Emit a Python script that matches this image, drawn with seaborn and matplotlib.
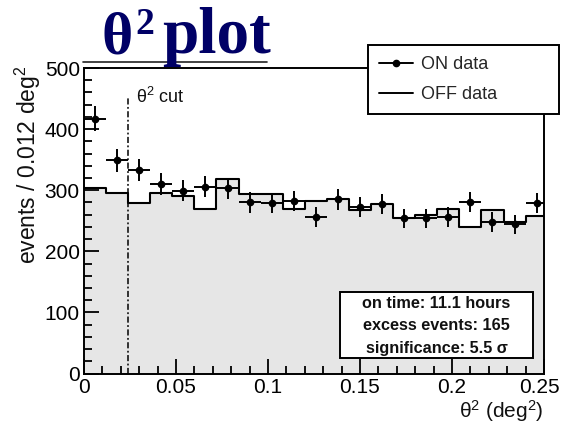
import numpy as np
import pandas as pd
import matplotlib
matplotlib.use("Agg")
import matplotlib.pyplot as plt
import matplotlib.transforms as mtransforms
import seaborn as sns
from matplotlib.lines import Line2D
from matplotlib.patches import Rectangle

# ---------------- data ----------------
theta2_edges = [0.000, 0.012, 0.024, 0.036, 0.048, 0.060, 0.072, 0.084, 0.096,
                0.108, 0.120, 0.132, 0.144, 0.156, 0.168, 0.180, 0.192, 0.204,
                0.216, 0.228, 0.240, 0.252]
on_counts = [417, 349, 333, 310, 299, 306, 303, 280, 279, 282, 256,
             285, 273, 277, 254, 254, 256, 281, 248, 244, 279]
on_errors = [20.4, 18.7, 18.2, 17.6, 17.3, 17.5, 17.4, 16.7, 16.7, 16.8, 16.0,
             16.9, 16.5, 16.6, 15.9, 15.9, 16.0, 16.8, 15.7, 15.6, 16.7]
off_counts = [304, 296, 279, 296, 291, 270, 319, 293, 293, 269, 282,
              285, 267, 278, 255, 259, 270, 240, 267, 248, 257]
theta2_cut = 0.024
x_tick_values = [0, 0.05, 0.1, 0.15, 0.2, 0.25]
x_tick_labels = ["0", "0.05", "0.1", "0.15", "0.2", "0.25"]
y_tick_values = [0, 100, 200, 300, 400, 500]
y_tick_labels = ["0", "100", "200", "300", "400", "500"]
stats_lines = ["on time: 11.1 hours", "excess events: 165", "significance: 5.5 σ"]

edges = np.array(theta2_edges)
centers = (edges[:-1] + edges[1:]) / 2
half_w = np.diff(edges) / 2
df = pd.DataFrame({"theta2": centers, "on": on_counts, "on_err": on_errors,
                   "off": off_counts, "half_w": half_w})

# ---------------- style ----------------
sns.set_theme(style="white")
plt.rcParams["font.family"] = ["Liberation Sans", "DejaVu Sans"]
plt.rcParams["mathtext.fontset"] = "custom"
plt.rcParams["mathtext.rm"] = "Liberation Sans"
plt.rcParams["mathtext.it"] = "Liberation Sans"
plt.rcParams["mathtext.bf"] = "Liberation Sans:bold"

W, H = 562, 429
fig = plt.figure(figsize=(W / 100, H / 100), dpi=100)
fig.patch.set_facecolor("white")
ax = fig.add_axes([84 / W, 1 - 373.5 / H, 460 / W, 305.5 / H])
ax.set_facecolor("white")
ax.set_axisbelow(False)

# OFF histogram: grey fill + black step outline
sns.histplot(data=df, x="theta2", weights="off", bins=list(theta2_edges),
             element="step", fill=True, color="#e6e6e6", alpha=1, linewidth=0,
             ax=ax, zorder=1)
sns.histplot(data=df, x="theta2", weights="off", bins=list(theta2_edges),
             element="step", fill=False, color="black", linewidth=1.5,
             ax=ax, zorder=3)

# ON data with error bars
ax.errorbar(df["theta2"], df["on"], yerr=df["on_err"], xerr=df["half_w"],
            fmt="o", color="black", markersize=4.5, elinewidth=1.4,
            capsize=0, zorder=4)

# theta^2 cut line
ax.plot([theta2_cut, theta2_cut], [0, 451], color="black", linewidth=1.1,
        linestyle=(0, (4, 1.6, 1.2, 1.6)), zorder=2)
ax.text(theta2_cut + 0.0045, 452, r"θ$^2$ cut", fontsize=13, ha="left",
        va="center", color="#111111")

ax.set_xlim(0, 0.25)
ax.set_ylim(0, 500)
ax.set_xticks(x_tick_values)
ax.set_xticklabels(x_tick_labels)
ax.set_yticks(y_tick_values)
ax.set_yticklabels(y_tick_labels)
ax.xaxis.set_minor_locator(matplotlib.ticker.MultipleLocator(0.01))
ax.yaxis.set_minor_locator(matplotlib.ticker.MultipleLocator(20))
ax.tick_params(which="both", direction="in", colors="black", width=1.3,
               top=False, right=False, bottom=True, left=True)
ax.tick_params(which="major", length=11, labelsize=15, pad=3)
ax.tick_params(which="minor", length=5.5)
ax.set_xlabel("")
ax.set_ylabel("")
for s in ax.spines.values():
    s.set_color("black")
    s.set_linewidth(1.4)
# last x label nudged left so it stays inside the canvas (as in the original)
last = ax.get_xticklabels()[-1]
last.set_transform(last.get_transform() +
                   mtransforms.ScaledTranslation(-5 / 100, 0, fig.dpi_scale_trans))

# axis titles
fig.text(544 / W, 1 - 411 / H, r"θ$^2$ (deg$^2$)", fontsize=15, ha="right",
         va="center", color="#111111")
fig.text(28 / W, 1 - 66 / H, r"events / 0.012 deg$^2$", fontsize=16.5,
         ha="center", va="top", rotation=90, color="#111111")

# legend (box partly outside the frame)
handles = [Line2D([], [], color="black", marker="o", markersize=4.5, linewidth=1.4),
           Line2D([], [], color="black", linewidth=1.4)]
leg = ax.legend(handles, ["ON data", "OFF data"], loc="upper left",
                bbox_to_anchor=(368 / W, 1 - 112 / H, 191 / W, 67 / H),
                bbox_transform=fig.transFigure, mode="expand", fontsize=13,
                frameon=True, fancybox=False, framealpha=1, edgecolor="black",
                handlelength=1.9, handletextpad=0.45, labelspacing=0.75,
                borderpad=0.6, borderaxespad=0)
leg.get_frame().set_linewidth(1.4)
leg.set_zorder(10)

# statistics box
fig.patches.append(Rectangle((340 / W, 1 - 358 / H), 193 / W, 66 / H,
                             transform=fig.transFigure, facecolor="white",
                             edgecolor="black", linewidth=1.4, zorder=5))
for i, line in enumerate(stats_lines):
    fig.text(436.5 / W, 1 - (304 + 22 * i) / H, line, fontsize=11.7,
             fontweight="bold", ha="center", va="center", color="#111111",
             zorder=6)

# slide title
navy = "#000066"
fig.text(101 / W, 1 - 53 / H, "θ", fontfamily="Liberation Serif",
         fontweight="bold", fontsize=43, color=navy, va="baseline", ha="left")
fig.text(135 / W, 1 - 34 / H, "2", fontfamily="Liberation Serif",
         fontweight="bold", fontsize=27, color=navy, va="baseline", ha="left")
fig.text(162 / W, 1 - 53 / H, "plot", fontfamily="Liberation Serif",
         fontweight="bold", fontsize=47, color=navy, va="baseline", ha="left")
fig.add_artist(Line2D([83 / W, 267 / W], [1 - 62 / H, 1 - 62 / H],
                      transform=fig.transFigure, color="#222222", linewidth=1.2))

fig.savefig("out.png", dpi=100)
